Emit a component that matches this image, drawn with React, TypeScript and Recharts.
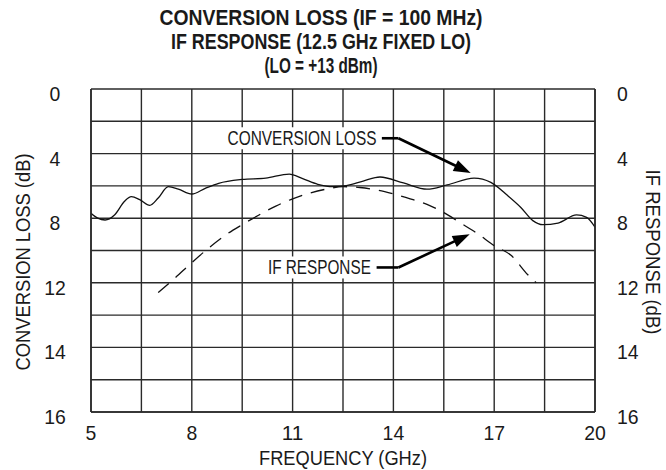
import React from 'react';
import { LineChart, Line, XAxis, YAxis, CartesianGrid, ReferenceLine, ReferenceDot } from 'recharts';

const FONT = '"Liberation Sans", Arial, Helvetica, sans-serif';
const INK = '#1a1a1a';

// Conversion loss (solid), frequency in GHz, loss in dB
const lossFreq = [5.0, 5.2, 5.42, 5.7, 6.0, 6.2, 6.45, 6.75, 7.0, 7.3, 7.6, 8.0, 8.4, 8.8, 9.5, 10.2, 10.9, 11.3, 11.75, 12.2, 12.6, 13.1, 13.6, 14.3, 15.0, 15.6, 16.4, 16.9, 17.4, 17.8, 18.15, 18.45, 18.9, 19.45, 19.75, 20.0];
const lossDb = [7.7, 8.0, 8.11, 7.8, 6.95, 6.67, 6.85, 7.2, 6.75, 6.05, 6.2, 6.5, 6.15, 5.84, 5.6, 5.52, 5.27, 5.55, 5.9, 6.05, 5.98, 5.7, 5.45, 5.82, 6.2, 5.94, 5.52, 5.78, 6.6, 7.35, 8.15, 8.4, 8.3, 7.8, 7.95, 8.55];

// IF response (dashed)
const ifFreq = [7.0, 7.5, 8.0, 8.5, 9.0, 9.5, 10.0, 10.5, 11.0, 11.5, 12.0, 12.5, 13.0, 13.5, 14.0, 14.5, 15.0, 15.5, 16.0, 16.5, 17.0, 17.5, 18.0, 18.25];
const ifDb = [12.6, 11.7, 10.75, 9.85, 9.05, 8.4, 7.8, 7.25, 6.8, 6.45, 6.2, 6.05, 6.1, 6.25, 6.5, 6.8, 7.15, 7.65, 8.3, 8.95, 9.7, 10.3, 11.5, 12.0];

// axis ticks
const xGridTicks = [5, 6.5, 8, 9.5, 11, 12.5, 14, 15.5, 17, 18.5, 20];
const xLabelTicks = [5, 8, 11, 14, 17, 20];
const yGridTicks = [0, 2, 4, 6, 8, 10, 12, 14, 16, 18, 20];
const yTickValues = [0, 4, 8, 12, 16, 20];
const yTickLabels = ['0', '4', '8', '12', '14', '16'];

const titleLines = ['CONVERSION LOSS (IF = 100 MHz)', 'IF RESPONSE (12.5 GHz FIXED LO)', '(LO = +13 dBm)'];
const titleWidths = [323, 300, 113];

// annotation anchors in data coordinates (GHz, dB)
const lossLabelAt = { x: 13.5, y: 3.05 };
const lossLeader = [{ x: 13.65, y: 3.05 }, { x: 14.15, y: 3.05 }];
const lossArrow = [{ x: 14.15, y: 3.05 }, { x: 16.3, y: 5.2 }];
const ifLabelAt = { x: 13.33, y: 11.05 };
const ifLeader = [{ x: 13.5, y: 11.05 }, { x: 14.15, y: 11.05 }];
const ifArrow = [{ x: 14.15, y: 11.05 }, { x: 16.27, y: 9.0 }];

const lossData = lossFreq.map((f, i) => ({ f, v: lossDb[i] }));
const ifData = ifFreq.map((f, i) => ({ f, v: ifDb[i] }));

const DIGIT_W = 10.8;

const LeftTick = (props: any) => {
  const idx = yTickValues.indexOf(props.payload.value);
  if (idx < 0) return <g />;
  const s = yTickLabels[idx];
  return (
    <text x={55} y={props.y} dy={12} textAnchor="middle" fontSize={21} fontFamily={FONT} fill={INK}
      textLength={s.length * DIGIT_W} lengthAdjust="spacingAndGlyphs">
      {s}
    </text>
  );
};

const RightTick = (props: any) => {
  const idx = yTickValues.indexOf(props.payload.value);
  if (idx < 0) return <g />;
  const s = yTickLabels[idx];
  return (
    <text x={617} y={props.y} dy={12} textAnchor="start" fontSize={21} fontFamily={FONT} fill={INK}
      textLength={s.length * DIGIT_W} lengthAdjust="spacingAndGlyphs">
      {s}
    </text>
  );
};

const BottomTick = (props: any) => {
  if (xLabelTicks.indexOf(props.payload.value) < 0) return <g />;
  const s = String(props.payload.value);
  return (
    <text x={props.x} y={440} textAnchor="middle" fontSize={21} fontFamily={FONT} fill={INK}
      textLength={s.length * DIGIT_W} lengthAdjust="spacingAndGlyphs">
      {s}
    </text>
  );
};

const makeLabel = (text: string, textW: number) => (props: any) => {
  const { cx, cy } = props;
  return (
    <g>
      <rect x={cx - textW - 4} y={cy - 11} width={textW + 9} height={22} fill="#fff" />
      <text x={cx} y={cy} dy={7} textAnchor="end" fontSize={20} fontFamily={FONT} fill={INK}
        textLength={textW} lengthAdjust="spacingAndGlyphs">
        {text}
      </text>
    </g>
  );
};

const ArrowShape = (props: any) => {
  const { x1, y1, x2, y2 } = props;
  if ([x1, y1, x2, y2].some((v) => typeof v !== 'number')) return <g />;
  const dx = x2 - x1;
  const dy = y2 - y1;
  const len = Math.sqrt(dx * dx + dy * dy);
  const ux = dx / len;
  const uy = dy / len;
  const headL = 17;
  const headW = 6;
  const bx = x2 - ux * headL;
  const by = y2 - uy * headL;
  const px = -uy;
  const py = ux;
  return (
    <g>
      <line x1={x1} y1={y1} x2={bx + ux * 2} y2={by + uy * 2} stroke="#000" strokeWidth={2.6} />
      <polygon
        points={`${x2},${y2} ${bx + px * headW},${by + py * headW} ${bx - px * headW},${by - py * headW}`}
        fill="#000"
      />
    </g>
  );
};

const LeaderShape = (props: any) => {
  const { x1, y1, x2, y2 } = props;
  if ([x1, y1, x2, y2].some((v) => typeof v !== 'number')) return <g />;
  return <line x1={x1} y1={y1} x2={x2} y2={y2} stroke="#000" strokeWidth={2.6} />;
};

export default function App() {
  return (
    <div style={{ position: 'absolute', left: 0, top: 0, width: 666, height: 470, background: '#fff' }}>
      <LineChart width={666} height={470} margin={{ top: 89, right: 0, bottom: 0, left: 0 }}>
        <CartesianGrid yAxisId="left" stroke="#2a2a2a" strokeWidth={1.4} fill="none" />
        <XAxis
          dataKey="f"
          type="number"
          domain={[5, 20]}
          ticks={xGridTicks}
          allowDataOverflow
          height={58}
          tickLine={false}
          axisLine={{ stroke: '#2a2a2a', strokeWidth: 1.6 }}
          tick={<BottomTick />}
          interval={0}
        />
        <YAxis
          yAxisId="left"
          type="number"
          domain={[0, 20]}
          reversed
          ticks={yGridTicks}
          width={91}
          tickLine={false}
          axisLine={{ stroke: '#2a2a2a', strokeWidth: 1.6 }}
          tick={<LeftTick />}
          interval={0}
        />
        <YAxis
          yAxisId="right"
          orientation="right"
          type="number"
          domain={[0, 20]}
          reversed
          ticks={yGridTicks}
          width={71}
          tickLine={false}
          axisLine={{ stroke: '#2a2a2a', strokeWidth: 1.6 }}
          tick={<RightTick />}
          interval={0}
        />
        <Line
          yAxisId="left"
          data={lossData}
          dataKey="v"
          type="monotone"
          stroke="#111"
          strokeWidth={1.3}
          dot={false}
          isAnimationActive={false}
        />
        <Line
          yAxisId="right"
          data={ifData}
          dataKey="v"
          type="monotone"
          stroke="#111"
          strokeWidth={1.3}
          strokeDasharray="14 9"
          dot={false}
          isAnimationActive={false}
        />
        <ReferenceDot yAxisId="left" x={lossLabelAt.x} y={lossLabelAt.y} shape={makeLabel('CONVERSION LOSS', 149)} />
        <ReferenceDot yAxisId="left" x={ifLabelAt.x} y={ifLabelAt.y} shape={makeLabel('IF RESPONSE', 103)} />
        <ReferenceLine yAxisId="left" segment={lossLeader} shape={LeaderShape} />
        <ReferenceLine yAxisId="left" segment={lossArrow} shape={ArrowShape} />
        <ReferenceLine yAxisId="left" segment={ifLeader} shape={LeaderShape} />
        <ReferenceLine yAxisId="left" segment={ifArrow} shape={ArrowShape} />
      </LineChart>
      <svg width={666} height={470} style={{ position: 'absolute', left: 0, top: 0, pointerEvents: 'none' }}>
        {titleLines.map((t, i) => (
          <text key={t} x={321} y={25 + i * 24} textAnchor="middle" fontSize={22} fontWeight="bold" fontFamily={FONT} fill={INK}
            textLength={titleWidths[i]} lengthAdjust="spacingAndGlyphs">
            {t}
          </text>
        ))}
        <text x={343} y={465} textAnchor="middle" fontSize={21} fontFamily={FONT} fill={INK}
          textLength={168} lengthAdjust="spacingAndGlyphs">
          FREQUENCY (GHz)
        </text>
        <text transform="translate(30,262) rotate(-90)" textAnchor="middle" fontSize={21} fontFamily={FONT} fill={INK}
          textLength={217} lengthAdjust="spacingAndGlyphs">
          CONVERSION LOSS (dB)
        </text>
        <text transform="translate(646,252) rotate(90)" textAnchor="middle" fontSize={21} fontFamily={FONT} fill={INK}
          textLength={165} lengthAdjust="spacingAndGlyphs">
          IF RESPONSE (dB)
        </text>
      </svg>
    </div>
  );
}
